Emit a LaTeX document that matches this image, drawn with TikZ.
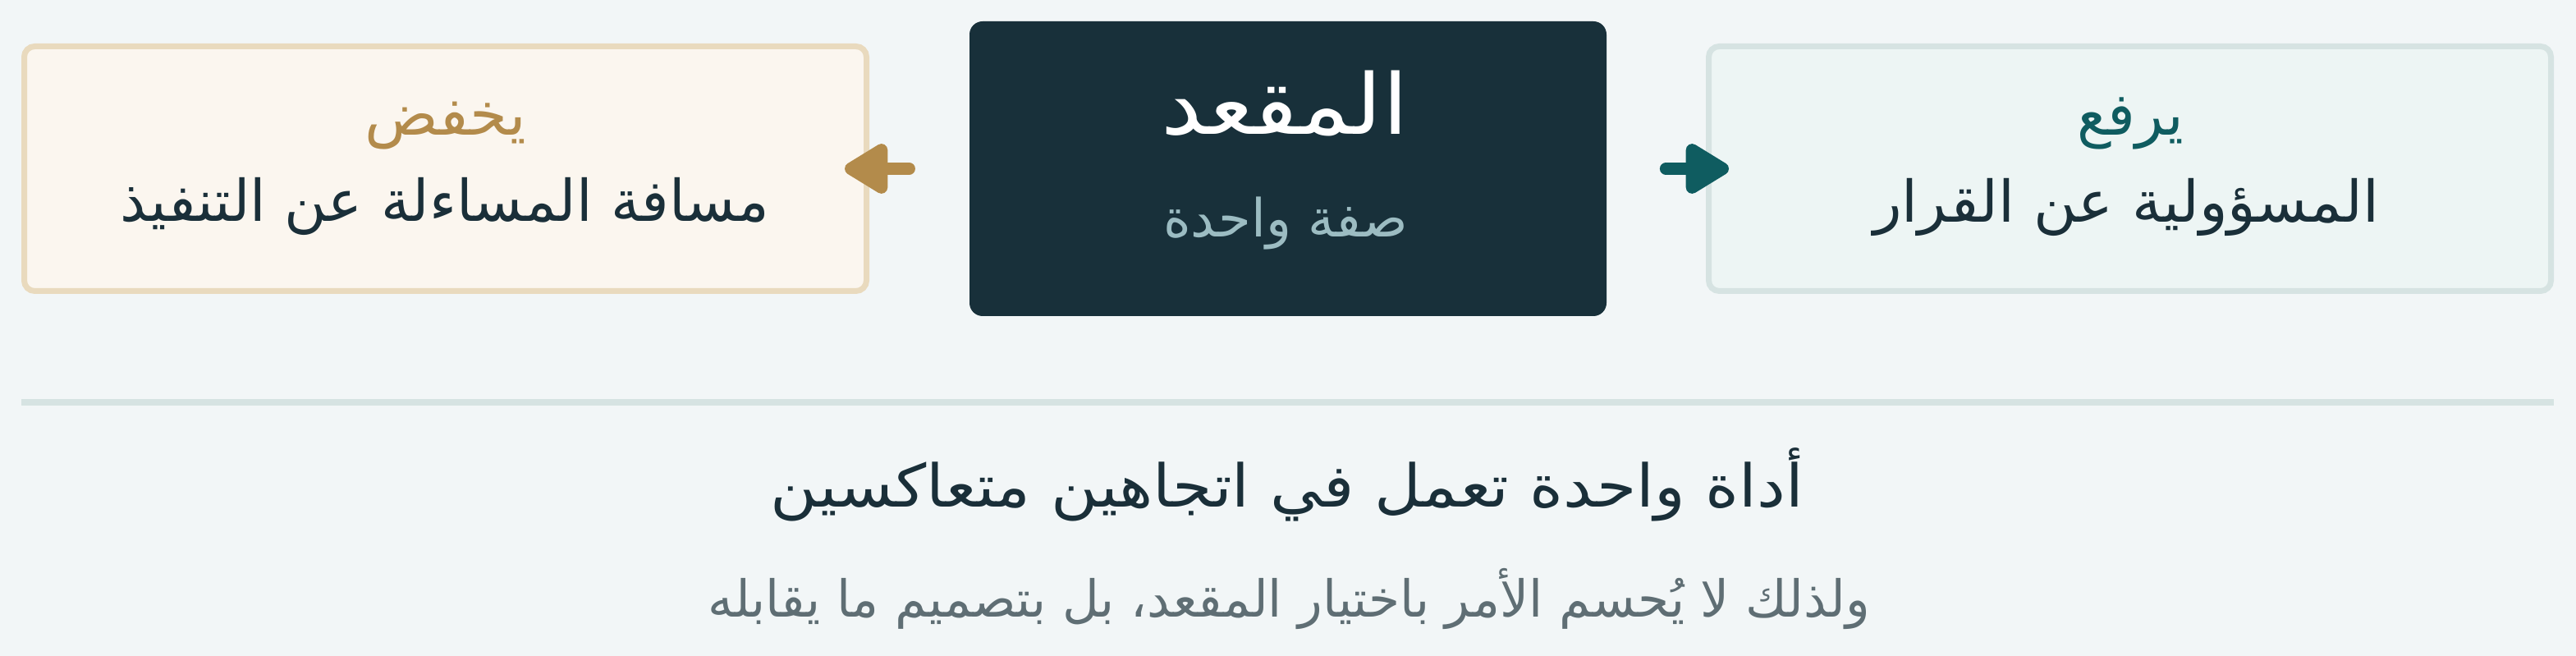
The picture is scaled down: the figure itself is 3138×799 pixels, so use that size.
\documentclass[tikz,border=0pt]{standalone}
\usepackage{fontspec}
\usepackage{graphicx}
\TeXXeTstate=1
\newfontfamily\arabicfont[Script=Arabic]{DejaVu Sans}
\usetikzlibrary{arrows.meta}
\definecolor{bgc}{HTML}{F2F6F7}
\definecolor{leftfill}{HTML}{FBF6EF}
\definecolor{leftline}{HTML}{E9DABE}
\definecolor{centfill}{HTML}{18303A}
\definecolor{rightfill}{HTML}{EDF5F4}
\definecolor{rightline}{HTML}{D6E3E2}
\definecolor{goldc}{HTML}{B38B4B}
\definecolor{tealc}{HTML}{0F5C60}
\definecolor{darkc}{HTML}{1A2F39}
\definecolor{subc}{HTML}{9CBCC2}
\definecolor{grayc}{HTML}{5F6E74}
\definecolor{divc}{HTML}{D6E3E2}
% #1 font size, #2 target width, #3 text
\newcommand{\artxt}[3]{{\fontsize{#1}{#1}\arabicfont\selectfont\resizebox{#2}{\height}{#3}}}
\tikzset{
  sidebox/.style={draw, line width=1.75pt, rounded corners=3.2pt, minimum width=256.5pt, minimum height=74.5pt, inner sep=0pt},
  centbox/.style={fill=centfill, rounded corners=4pt, minimum width=194pt, minimum height=89.75pt, inner sep=0pt, outer sep=0pt},
  lbl/.style={anchor=base, inner sep=0pt, outer sep=0pt},
  bigarrow/.style={line width=3.75pt, line cap=round, -{Triangle[length=15pt,width=17pt,round]}},
}
\begin{document}
\begin{tikzpicture}[x=0.25pt,y=-0.25pt]
\fill[bgc] (0,0) rectangle (3138,799);
\useasboundingbox (0,0) rectangle (3138,799);
% boxes
\node[sidebox, draw=leftline, fill=leftfill] (lbox) at (542.5,205.5) {};
\node[centbox] (cbox) at (1569,205.5) {};
\node[sidebox, draw=rightline, fill=rightfill] (rbox) at (2594.5,205.5) {};
% arrows
\coordinate (ltail) at ([xshift=-18.4pt]cbox.west);
\coordinate (ltip) at ([xshift=-7.5pt]lbox.east);
\coordinate (rtail) at ([xshift=18.1pt]cbox.east);
\coordinate (rtip) at ([xshift=7pt]rbox.west);
\draw[bigarrow, goldc] (ltail) -- (ltip);
\draw[bigarrow, tealc] (rtail) -- (rtip);
% central texts
\node[lbl, text=white] (ctitle) at (1565,164) {\artxt{25.5pt}{75.25pt}{\beginR المقعد\endR}};
\node[lbl, text=subc] (csub) at (1566,289) {\artxt{16pt}{74.5pt}{\beginR صفة واحدة\endR}};
% left texts
\node[lbl, text=goldc] (ltitle) at (543,165) {\artxt{18pt}{49.25pt}{\beginR يخفض\endR}};
\node[lbl, text=darkc] (lsub) at (542,270) {\artxt{17.5pt}{197.5pt}{\beginR مسافة المساءلة عن التنفيذ\endR}};
% right texts
\node[lbl, text=tealc] (rtitle) at (2595,165) {\artxt{18pt}{32.5pt}{\beginR يرفع\endR}};
\node[lbl, text=darkc] (rsub) at (2590,271) {\artxt{17.5pt}{154pt}{\beginR المسؤولية عن القرار\endR}};
% divider
\coordinate (d1) at (26,490);
\coordinate (d2) at (3111,490);
\draw[divc, line width=2pt] (d1) -- (d2);
% bottom texts
\node[lbl, text=darkc] (btitle) at (1568,618) {\artxt{18pt}{314.5pt}{\beginR أداة واحدة تعمل في اتجاهين متعاكسين\endR}};
\node[lbl, text=grayc] (bsub) at (1570,752) {\artxt{15.5pt}{354pt}{\beginR ولذلك لا يُحسم الأمر باختيار المقعد، بل بتصميم ما يقابله\endR}};
\end{tikzpicture}
\end{document}
